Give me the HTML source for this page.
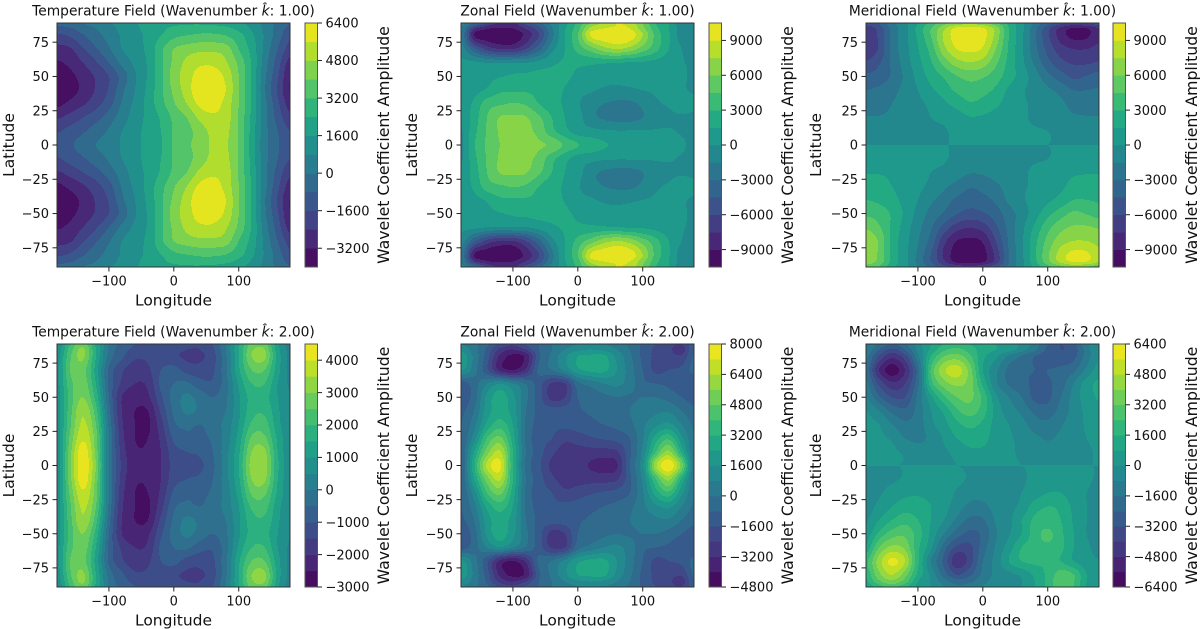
<!DOCTYPE html>
<html lang="en">
<head>
<meta charset="utf-8">
<title>Wavelet Coefficient Amplitude Fields</title>
<style>
html,body{margin:0;padding:0;background:#fff;}
svg{display:block;font-family:"DejaVu Sans","Liberation Sans",sans-serif;fill:#111;filter:blur(0.35px);}
</style>
</head>
<body>
<svg id="figure" xmlns="http://www.w3.org/2000/svg" width="1200" height="629" viewBox="0 0 1200 629"></svg>
<script>
// Grid coordinates of the sampled fields (degrees)
const lons = [-180,-160,-140,-120,-100,-80,-60,-40,-20,0,20,40,60,80,100,120,140,160,180];
const northLats = [89,85,80,70,60,50,40,30,20,10,0];
const fullLats = [89,85,80,70,60,50,40,30,20,10,0,-10,-20,-30,-40,-50,-60,-70,-80,-85,-89];
const lonTicks = [-100,0,100];
const latTicks = [75,50,25,0,-25,-50,-75];
const valueUnit = 100;

// Temperature k=1 (northern half, values in hundreds; southern half mirrors)
const temperatureK1 = [
[-5,-3,0,3,7,11,15,19,21,22,23,23,22,21,18,13,6,-2,-8],
[-12,-9,-4,0,5,10,14,19,22,26,27,28,28,26,22,15,6,-3,-11],
[-18,-15,-9,-3,3,9,13,18,24,30,32,34,34,32,27,18,7,-4,-15],
[-27,-25,-17,-9,-1,8,13,18,30,40,44,46,46,44,32,21,6,-8,-20],
[-33,-30,-24,-17,-8,2,10,17,30,42,50,54,54,49,38,23,4,-12,-28],
[-37,-34,-29,-23,-16,-5,7,17,30,44,52,60,61,54,40,23,2,-15,-32],
[-38,-35,-30,-23,-15,-2,8,18,30,42,52,62,63,56,40,23,1,-17,-33],
[-34,-30,-25,-19,-11,1,10,19,29,39,48,58,60,53,40,23,3,-14,-28],
[-25,-21,-16,-11,-4,4,12,18,25,34,40,50,54,52,39,22,3,-11,-23],
[-17,-13,-9,-4,1,8,13,19,24,33,37,44,50,50,39,21,3,-8,-16],
[-12,-9,-5,0,3,9,13,19,23,33,38,44,49,49,39,20,3,-7,-13]
];

// Zonal k=1 (northern half, hundreds)
const zonalK1 = [
[-10,-30,-60,-80,-80,-55,-35,-10,10,35,60,80,90,85,60,30,15,-10,-15],
[-13,-70,-88,-91,-90,-74,-52,-17,13,39,80,90,92,90,65,35,15,-6,-10],
[-15,-90,-100,-105,-103,-85,-60,-20,15,45,92,100,105,100,75,40,17,-7,-12],
[-7,-40,-65,-75,-75,-60,-35,-5,15,35,52,68,75,68,52,35,15,0,-7],
[3,3,0,-2,0,0,5,12,17,18,18,17,15,14,13,10,6,1,-2],
[2,6,10,14,17,18,20,20,18,12,8,5,4,4,5,6,4,1,-1],
[3,10,17,27,28,28,25,20,14,5,2,-2,-3,-2,0,2,3,1,-1],
[5,18,38,43,46,43,30,20,13,2,-9,-15,-18,-18,-12,-2,1,4,2],
[4,22,45,61,62,61,48,30,15,6,-10,-17,-20,-20,-15,-5,-2,-1,-2],
[-2,25,46,62,65,64,55,35,20,8,5,2,1,1,1,1,1,-1,-3],
[-3,28,48,60,65,65,62,57,42,31,24,17,12,10,8,7,5,2,-4]
];

// Meridional k=1 (northern half, hundreds; southern half has opposite sign)
const meridionalK1 = [
[-55,-45,-20,-5,15,35,55,65,70,65,50,25,5,-20,-40,-55,-65,-60,-50],
[-68,-55,-25,-5,20,45,72,95,100,92,70,30,5,-25,-55,-80,-92,-90,-75],
[-72,-57,-26,-5,18,45,78,98,104,96,70,30,3,-27,-57,-82,-95,-93,-78],
[-72,-58,-25,-6,14,36,70,90,94,88,60,28,3,-25,-50,-68,-75,-75,-70],
[-58,-47,-27,-8,10,28,50,68,74,68,48,25,4,-18,-40,-55,-62,-62,-58],
[-42,-38,-28,-12,5,20,32,44,50,47,37,22,8,-8,-25,-38,-48,-44,-38],
[-30,-27,-20,-10,0,12,22,33,39,35,27,12,2,-5,-12,-20,-30,-30,-28],
[-23,-23,-15,-9,-3,3,12,20,28,25,18,9,2,-2,-7,-12,-20,-22,-22],
[-14,-14,-11,-7,-4,0,3,8,14,13,9,6,2,-2,-5,-10,-13,-14,-14],
[-8,-8,-7,-6,-4,-2,-1,3,6,6,5,3,2,1,0,-3,-7,-8,-8],
[0,0,0,0,0,0,0,0,0,0,0,0,0,0,0,0,0,0,0]
];

// Temperature k=2 (northern half, hundreds)
const temperatureK2 = [
[5,20,28,14,0,-7,-10,-11,-12,-12,-13,-14,-10,0,14,27,27,11,2],
[6,22,31,15,-1,-8,-11,-12,-13,-13,-15,-15,-11,0,15,29,30,12,3],
[7,24,31,15,-2,-9,-14,-14,-13,-14,-16,-16,-12,-1,15,30,31,13,3],
[8,25,27,13,-6,-14,-18,-16,-10,-8,-12,-13,-11,-1,14,25,25,12,3],
[8,23,28,15,-6,-16,-20,-19,-9,-5,-4,-8,-9,-2,11,20,20,10,4],
[7,22,30,18,-5,-20,-23,-21,-11,-3,1,-2,-5,-1,9,17,17,10,5],
[7,23,34,22,-3,-20,-25,-25,-14,-4,1,-1,-3,0,9,18,19,11,5],
[7,24,36,25,-1,-19,-25,-26,-17,-6,-4,-5,-3,2,10,21,22,12,5],
[7,26,39,27,0,-18,-25,-25,-19,-9,-6,-6,-4,2,12,26,26,14,6],
[6,28,43,28,0,-17,-24,-24,-20,-12,-10,-9,-5,3,14,30,31,15,6],
[6,29,43,30,0,-16,-23,-23,-20,-13,-11,-11,-6,3,15,32,32,16,6]
];

// Zonal k=2 (northern half, hundreds)
const zonalK2 = [
[8,2,-6,-18,-22,-14,-8,0,4,8,10,8,4,-2,-10,-16,-20,-24,-8],
[14,4,-10,-26,-32,-24,-8,0,8,14,16,14,8,0,-10,-18,-22,-28,-8],
[22,6,-12,-34,-42,-38,-10,2,14,24,26,26,14,2,-10,-18,-20,-22,-6],
[18,4,-14,-34,-40,-30,-6,0,10,22,26,26,16,4,-8,-18,-16,-14,-5],
[-12,-4,8,15,8,-1,-12,-25,-24,-3,3,8,10,4,-6,-8,-10,-14,-14],
[-14,-4,18,28,18,2,-12,-27,-24,-8,-5,-2,0,-1,0,0,-3,-8,-12],
[-10,0,20,28,20,0,-10,-13,-12,-9,-7,-5,-3,0,3,6,7,0,-6],
[-8,5,26,36,24,-1,-11,-14,-14,-12,-10,-8,-6,-2,6,14,18,8,-2],
[-8,12,40,50,28,-2,-12,-16,-22,-20,-17,-15,-13,-8,7,28,38,18,0],
[-8,24,52,65,32,0,-12,-22,-27,-27,-27,-27,-25,-10,10,40,58,30,0],
[-8,30,66,74,32,-2,-14,-26,-27,-28,-33,-36,-33,-8,14,62,78,52,0]
];

// Meridional k=2 (all latitudes, hundreds)
const meridionalK2 = [
[-8,-18,-24,-18,-4,8,16,20,16,12,8,4,-2,-12,-24,-32,-26,-10,0],
[-10,-24,-34,-24,-6,10,22,26,20,12,8,4,-4,-14,-26,-32,-28,-12,0],
[-14,-34,-46,-36,-10,16,32,36,26,10,2,-10,-17,-24,-28,-30,-26,-12,0],
[-18,-48,-60,-48,-20,25,46,52,36,8,-6,-18,-22,-24,-24,-22,-18,-6,4],
[-14,-34,-46,-40,-18,20,36,42,36,14,-6,-17,-22,-25,-25,-20,-8,4,10],
[-8,-22,-32,-32,-14,6,22,32,34,22,2,-8,-16,-26,-26,-16,-5,4,9],
[0,-8,-18,-22,-13,0,10,22,28,20,5,-4,-10,-18,-20,-13,-5,2,6],
[2,0,-8,-14,-12,-2,5,14,18,14,5,0,-5,-12,-14,-9,-4,1,3],
[2,1,-1,-8,-10,-6,1,8,12,11,4,1,-2,-6,-9,-6,-3,0,2],
[1,1,1,-1,-4,-3,-1,2,6,6,3,1,-1,-3,-4,-3,-2,-1,1],
[0,0,0,0,0,0,0,0,0,0,0,0,0,0,0,0,0,0,0],
[-1,-1,-1,1,3,4,3,2,-1,-2,-2,-2,-1,2,4,3,2,1,-1],
[-2,-1,3,6,7,6,4,-1,-5,-5,-3,-2,0,4,8,8,3,0,-3],
[-3,2,8,12,11,8,3,-4,-10,-10,-5,-2,2,12,16,14,6,0,-5],
[-1,8,16,21,16,8,0,-10,-18,-17,-7,-2,8,18,19,16,7,0,-8],
[3,18,28,30,20,6,-8,-20,-26,-22,-9,-1,8,20,26,18,8,0,-8],
[10,32,42,38,18,2,-20,-34,-34,-20,-7,4,16,20,22,18,8,2,-4],
[22,44,58,48,18,-8,-26,-46,-36,-16,-5,8,16,18,17,16,8,3,0],
[18,38,48,36,14,-2,-20,-32,-26,-14,-6,-2,2,10,18,28,24,8,0],
[14,30,38,28,8,-1,-12,-20,-18,-10,-6,-4,0,8,18,30,24,8,0],
[10,20,26,18,6,0,-8,-14,-12,-8,-5,-3,0,8,18,31,24,7,0]
];

// Colour-bar tick labels
const ticksTemperatureK1 = [6400,4800,3200,1600,0,-1600,-3200];
const ticksVelocityK1 = [9000,6000,3000,0,-3000,-6000,-9000];
const ticksTemperatureK2 = [4000,3000,2000,1000,0,-1000,-2000,-3000];
const ticksZonalK2 = [8000,6400,4800,3200,1600,0,-1600,-3200,-4800];
const ticksMeridionalK2 = [6400,4800,3200,1600,0,-1600,-3200,-4800,-6400];

const viridis = ['#440154','#481a6c','#472f7d','#414487','#39568c','#31688e','#2a788e','#23888e','#1f988b','#22a884','#35b779','#54c568','#7ad151','#a5db36','#d2e21b','#fde725'];

function mirrorRows(north, sign){
  const south = north.slice(0,-1).reverse().map(function(r){return r.map(function(v){return v*sign;});});
  return north.concat(south);
}
const mirroredLats = northLats.concat(northLats.slice(0,-1).reverse().map(function(v){return -v;}));

const panels = [
 {key:'temperature-k1',field:'Temperature Field',k:'1.00',rows:mirrorRows(temperatureK1,1),lats:mirroredLats,min:-4000,max:6400,step:800,ticks:ticksTemperatureK1,x:57,w:233,y:23,h:244,cbx:305,ylabx:9,cblabx:384},
 {key:'zonal-k1',field:'Zonal Field',k:'1.00',rows:mirrorRows(zonalK1,1),lats:mirroredLats,min:-10500,max:10500,step:1500,ticks:ticksVelocityK1,x:461,w:233,y:23,h:244,cbx:709,ylabx:412,cblabx:788},
 {key:'meridional-k1',field:'Meridional Field',k:'1.00',rows:mirrorRows(meridionalK1,-1),lats:mirroredLats,min:-10500,max:10500,step:1500,ticks:ticksVelocityK1,x:866,w:233,y:23,h:244,cbx:1113,ylabx:816,cblabx:1192},
 {key:'temperature-k2',field:'Temperature Field',k:'2.00',rows:mirrorRows(temperatureK2,1),lats:mirroredLats,min:-3000,max:4500,step:500,ticks:ticksTemperatureK2,x:57,w:233,y:344,h:243,cbx:305,ylabx:9,cblabx:384},
 {key:'zonal-k2',field:'Zonal Field',k:'2.00',rows:mirrorRows(zonalK2,1),lats:mirroredLats,min:-4800,max:8000,step:800,ticks:ticksZonalK2,x:461,w:233,y:344,h:243,cbx:709,ylabx:412,cblabx:788},
 {key:'meridional-k2',field:'Meridional Field',k:'2.00',rows:meridionalK2,lats:fullLats,min:-6400,max:6400,step:800,ticks:ticksMeridionalK2,x:866,w:233,y:344,h:243,cbx:1113,ylabx:816,cblabx:1192}
];

const SVGNS='http://www.w3.org/2000/svg';
const root=document.getElementById('figure');

function hexToRgb(h){return [parseInt(h.substr(1,2),16),parseInt(h.substr(3,2),16),parseInt(h.substr(5,2),16)];}
function cmap(t){
  const p=Math.max(0,Math.min(1,t))*(viridis.length-1);
  const i=Math.min(viridis.length-2,Math.floor(p));
  const f=p-i;
  const a=hexToRgb(viridis[i]),b=hexToRgb(viridis[i+1]);
  return 'rgb('+a.map(function(v,j){return Math.round(v+(b[j]-v)*f);}).join(',')+')';
}
function fmt(v){return v<0?'\u2212'+Math.abs(v):String(v);}
function catmull(a,b,c,d,t){
  return 0.5*(2*b+(c-a)*t+(2*a-5*b+4*c-d)*t*t+(3*b-a-3*c+d)*t*t*t);
}
function sampleField(rows,lats,lon,lat){
  const cf=Math.max(0,Math.min(lons.length-1,(lon-lons[0])/(lons[1]-lons[0])));
  let ri=0;
  while(ri<lats.length-2&&lat<lats[ri+1])ri++;
  const rt=Math.max(0,Math.min(1,(lats[ri]-lat)/(lats[ri]-lats[ri+1])));
  const ci=Math.min(lons.length-2,Math.floor(cf)),ct=cf-ci;
  const vals=[];
  for(let r=ri-1;r<=ri+2;r++){
    const row=rows[Math.max(0,Math.min(rows.length-1,r))];
    const g=function(c){return row[Math.max(0,Math.min(row.length-1,c))];};
    vals.push(catmull(g(ci-1),g(ci),g(ci+1),g(ci+2),ct));
  }
  return catmull(vals[0],vals[1],vals[2],vals[3],rt)*valueUnit;
}
function addLine(parent,name,x1,y1,x2,y2,stroke){
  const el=document.createElementNS(SVGNS,'line');
  
  
  el.setAttribute('x1',x1);el.setAttribute('y1',y1);el.setAttribute('x2',x2);el.setAttribute('y2',y2);
  el.setAttribute('stroke',stroke||'#222');el.setAttribute('stroke-width','1');
  parent.appendChild(el);
  return el;
}
function addText(parent,name,str,x,y,size,anchor,rotate){
  const el=document.createElementNS(SVGNS,'text');
  
  
  el.setAttribute('x',x);el.setAttribute('y',y);
  el.setAttribute('font-size',size);
  el.setAttribute('text-anchor',anchor||'middle');
  if(rotate)el.setAttribute('transform','rotate('+rotate+' '+x+' '+y+')');
  el.textContent=str;
  parent.appendChild(el);
  return el;
}

panels.forEach(function(p){
  const g=document.createElementNS(SVGNS,'g');
  
  
  root.appendChild(g);

  const lonMin=-180,lonMax=179,latMax=89,latMin=-89;
  const xScale=function(lon){return p.x+(lon-lonMin)/(lonMax-lonMin)*p.w;};
  const yScale=function(lat){return p.y+(latMax-lat)/(latMax-latMin)*p.h;};
  const xInv=function(px){return lonMin+(px-p.x)/p.w*(lonMax-lonMin);};
  const yInv=function(py){return latMax-(py-p.y)/p.h*(latMax-latMin);};

  const nBands=Math.round((p.max-p.min)/p.step);
  const paths=[];
  for(let b=0;b<nBands;b++)paths.push([]);
  for(let j=0;j<p.h;j++){
    const lat=yInv(p.y+j+0.5);
    let runBand=-1,runStart=0;
    for(let i=0;i<=p.w;i++){
      let band=-2;
      if(i<p.w){
        const v=sampleField(p.rows,p.lats,xInv(p.x+i+0.5),lat);
        band=Math.max(0,Math.min(nBands-1,Math.floor((v-p.min)/p.step)));
      }
      if(band!==runBand){
        if(runBand>=0)paths[runBand].push('M'+(p.x+runStart)+' '+(p.y+j)+'h'+(i-runStart)+'v1h-'+(i-runStart)+'z');
        runBand=band;runStart=i;
      }
    }
  }
  paths.forEach(function(d,b){
    if(!d.length)return;
    const el=document.createElementNS(SVGNS,'path');
    
    
    el.setAttribute('d',d.join(''));
    el.setAttribute('fill',cmap((b+0.5)/nBands));
    el.setAttribute('shape-rendering','crispEdges');
    g.appendChild(el);
  });

  const frame=document.createElementNS(SVGNS,'rect');
  
  
  frame.setAttribute('x',p.x);frame.setAttribute('y',p.y);
  frame.setAttribute('width',p.w);frame.setAttribute('height',p.h);
  frame.setAttribute('fill','none');frame.setAttribute('stroke','#333');frame.setAttribute('stroke-width','1');
  g.appendChild(frame);

  lonTicks.forEach(function(t){
    const x=xScale(t);
    addLine(g,'x-tick-mark',x,p.y+p.h,x,p.y+p.h+4.5);
    addText(g,'x-tick-label',fmt(t),x,p.y+p.h+18.5,13,'middle');
  });
  latTicks.forEach(function(t){
    const y=yScale(t);
    addLine(g,'y-tick-mark',p.x-4.5,y,p.x,y);
    addText(g,'y-tick-label',fmt(t),p.x-8,y+4.7,13,'end');
  });
  addText(g,'x-axis-title','Longitude',p.x+p.w/2,p.y+p.h+38.5,15.5,'middle');
  addText(g,'y-axis-title','Latitude',p.ylabx+5,p.y+p.h/2,15.5,'middle',-90);

  const title=addText(g,'panel-title','',p.x+p.w/2,p.y-7.5,13.8,'middle');
  title.appendChild(document.createTextNode(p.field+' (Wavenumber '));
  const kspan=document.createElementNS(SVGNS,'tspan');
  kspan.setAttribute('font-style','italic');
  kspan.textContent='k\u0302';
  title.appendChild(kspan);
  title.appendChild(document.createTextNode(': '+p.k+')'));

  const cbW=12.5;
  const cbY=function(v){return p.y+(p.max-v)/(p.max-p.min)*p.h;};
  for(let b=0;b<nBands;b++){
    const lo=p.min+b*p.step,hi=lo+p.step;
    const r=document.createElementNS(SVGNS,'rect');
    
    
    r.setAttribute('x',p.cbx);r.setAttribute('y',cbY(hi));
    r.setAttribute('width',cbW);r.setAttribute('height',cbY(lo)-cbY(hi)+0.3);
    r.setAttribute('fill',cmap((b+0.5)/nBands));
    g.appendChild(r);
  }
  const cbFrame=document.createElementNS(SVGNS,'rect');
  
  
  cbFrame.setAttribute('x',p.cbx);cbFrame.setAttribute('y',p.y);
  cbFrame.setAttribute('width',cbW);cbFrame.setAttribute('height',p.h);
  cbFrame.setAttribute('fill','none');cbFrame.setAttribute('stroke','#555');cbFrame.setAttribute('stroke-width','1');
  g.appendChild(cbFrame);
  p.ticks.forEach(function(t){
    const y=cbY(t);
    addLine(g,'colorbar-tick-mark',p.cbx+cbW,y,p.cbx+cbW+4.5,y);
    addText(g,'colorbar-tick-label',fmt(t),p.cbx+cbW+8,y+4.7,13,'start');
  });
  addText(g,'colorbar-title','Wavelet Coefficient Amplitude',p.cblabx+5,p.y+p.h/2,15.7,'middle',-90);
});
</script>
</body>
</html>
